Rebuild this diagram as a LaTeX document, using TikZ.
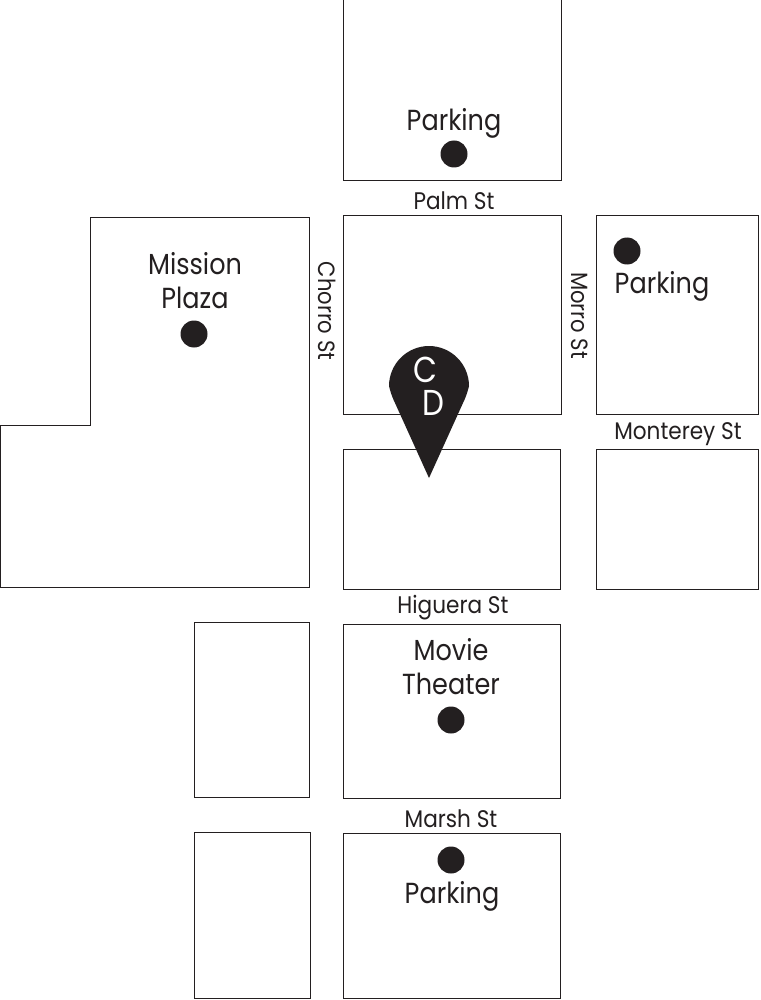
\documentclass[tikz,border=0pt]{standalone}
\usepackage{fontspec}
\setmainfont{Poppins}[FakeStretch=0.88]
\newfontfamily\narrowfont{Poppins}[FakeStretch=0.9]
\newfontfamily\pinfont{Poppins}[FakeStretch=0.86]
\definecolor{ink}{HTML}{231F20}
\tikzset{
  x=1pt,y=-1pt,
  block/.style={draw=ink,line width=0.9pt,fill=white,line join=miter,xshift=-0.2pt,yshift=0.1pt},
  big/.style={text=ink,font=\fontsize{29}{34}\selectfont,align=center,inner sep=0pt},
  small/.style={text=ink,font=\fontsize{24}{26}\narrowfont\selectfont,inner sep=0pt},
  side/.style={text=ink,font=\fontsize{23.5}{26}\narrowfont\selectfont,inner sep=0pt,rotate=-90},
  place/.style={fill=ink,circle,minimum size=27pt,inner sep=0pt},
  pintext/.style={text=white,font=\fontsize{36}{40}\pinfont\selectfont,inner sep=0pt}
}
\begin{document}
\begin{tikzpicture}
\useasboundingbox (0,0) rectangle (760,1000);
\fill[white] (0,0) rectangle (760,1000);
\draw[block] (344,-2) rectangle (562,181);
\draw[block] (344,216) rectangle (562,415);
\draw[block] (597,216) rectangle (759,415);
\draw[block] (344,450) rectangle (561,590);
\draw[block] (597,450) rectangle (759,590);
\draw[block] (344,625) rectangle (561,799);
\draw[block] (344,834) rectangle (561,999);
\draw[block] (195,623) rectangle (310,798);
\draw[block] (195,833) rectangle (311,999);
\draw[block] (91,218) -- (310,218) -- (310,588) -- (0.5,588) -- (0.5,426) -- (91,426) -- cycle;
\node[place] (p1) at (454,154) {};
\node[place] (p2) at (627,251) {};
\node[place] (p3) at (194,334) {};
\node[place] (p4) at (451,720) {};
\node[place] (p5) at (451,860) {};
\node[big] (t1) at (454,123) {Parking};
\node[big] (t2) at (662,286) {Parking};
\node[big] (t3) at (452,896) {Parking};
\node[big] (t4) at (195,281) {Mission\\Plaza};
\node[big] (t5) at (451,667) {Movie\\Theater};
\node[small] (s1) at (454,201) {Palm St};
\node[small] (s2) at (678,434) {Monterey St};
\node[small] (s3) at (453,608) {Higuera St};
\node[small] (s4) at (451,819) {Marsh St};
\node[side] (s5) at (327,311) {Chorro St};
\node[side] (s6) at (579.5,315.5) {Morro St};
\fill[ink] (429,478) -- (395,403) .. controls (391,395) and (389,386) .. (389,386)
  .. controls (389,364) and (407,346) .. (429,346)
  .. controls (451,346) and (469,364) .. (469,386)
  .. controls (469,386) and (467,395) .. (463,403) -- cycle;
\node[pintext] (c) at (425,370) {C};
\node[pintext] (d) at (433,403) {D};
\end{tikzpicture}
\end{document}
